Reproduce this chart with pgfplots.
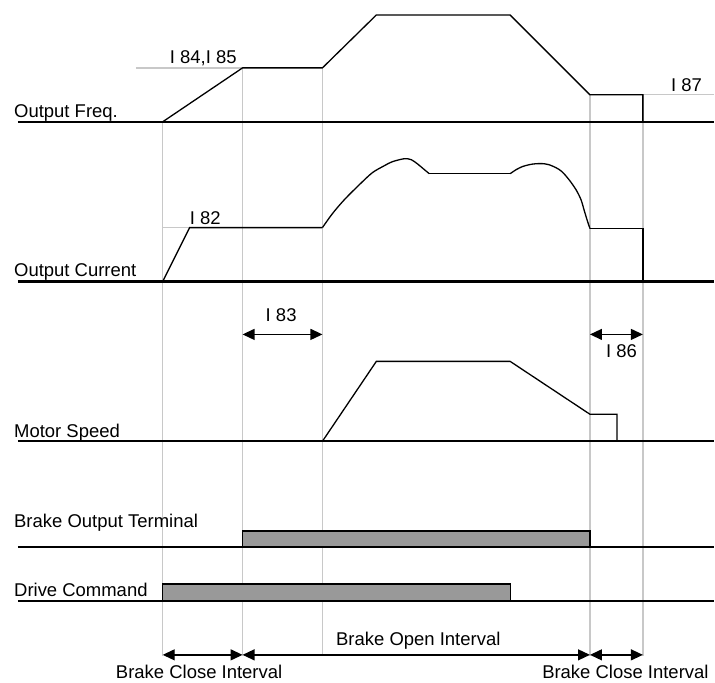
\documentclass[border=0pt]{standalone}
\usepackage{pgfplots}
\pgfplotsset{compat=1.18}
\usepackage{fontspec}
\setmainfont{Liberation Sans}
\usetikzlibrary{arrows.meta}
\definecolor{gl}{HTML}{C8C8C8}
\definecolor{barfill}{HTML}{999999}
\begin{document}
\begin{tikzpicture}
\begin{axis}[scale only axis, width=715pt, height=684pt,
  xmin=0, xmax=715, ymin=0, ymax=684, y dir=reverse,
  hide axis, clip=false,
  every axis plot/.append style={line join=miter},
  font=\fontsize{18.5}{22}\selectfont]
\path (axis cs:0,0) rectangle (axis cs:715,684);
% gray reference lines
\addplot[gl, line width=1.3pt] coordinates {(163,122)(163,657)};
\addplot[gl, line width=1.3pt] coordinates {(243,68)(243,657)};
\addplot[gl, line width=1.3pt] coordinates {(323,68)(323,657)};
\addplot[gl, line width=1.3pt] coordinates {(591,95)(591,657)};
\addplot[gl, line width=1.3pt] coordinates {(644,95)(644,657)};
\addplot[gl, line width=1.3pt] coordinates {(136,68)(243,68)};
\addplot[gl, line width=1.3pt] coordinates {(163,228)(190,228)};
\addplot[gl, line width=1.3pt] coordinates {(644,95)(715,95)};
% baselines
\addplot[black, line width=2.5pt] coordinates {(18,122)(715,122)};
\addplot[black, line width=2.5pt] coordinates {(18,282)(715,282)};
\addplot[black, line width=2.5pt] coordinates {(18,442)(715,442)};
\addplot[black, line width=2.5pt] coordinates {(18,548)(715,548)};
\addplot[black, line width=2.5pt] coordinates {(18,602)(715,602)};
% output frequency
\addplot[black, line width=1.3pt] coordinates {(163,122)(243,68)(323,68)(377,15)(511,15)(591,95)(644,95)(644,122)};
% output current
\addplot[black, line width=1.3pt] coordinates {(163,282)(190,228)(323,228)};
\addplot[black, line width=1.3pt, smooth, tension=0.5] coordinates {(323,228)(333,214)(345,200)(360,185)(373,173)(385,166)(393,162)(405,159)(412,160)(418,164)(424,169)(430,174)};
\addplot[black, line width=1.3pt] coordinates {(430,174)(511,174)};
\addplot[black, line width=1.3pt, smooth, tension=0.5] coordinates {(511,174)(517,170)(523,167)(530,165)(537,164)(545,164)(550,165)(557,168)(563,172)(570,180)(577,190)(582,200)(585,210)(588,220)(591,229)};
\addplot[black, line width=1.3pt] coordinates {(591,229)(644,229)(644,282)};
% motor speed
\addplot[black, line width=1.3pt] coordinates {(323,442)(377,362)(511,362)(591,415)(618,415)(618,442)};
% bars
\addplot[draw=black, line width=1.2pt, fill=barfill] coordinates {(243,548)(243,532)(591,532)(591,548)} -- cycle;
\addplot[draw=black, line width=1.2pt, fill=barfill] coordinates {(163,602)(163,585)(511,585)(511,602)} -- cycle;
% arrows
\addplot[black, line width=1.3pt, arrows={Triangle[length=12pt,width=11pt]-Triangle[length=12pt,width=11pt]}] coordinates {(243,335)(323,335)};
\addplot[black, line width=1.3pt, arrows={Triangle[length=12pt,width=11pt]-Triangle[length=12pt,width=11pt]}] coordinates {(591,335)(644,335)};
\addplot[black, line width=1.3pt, arrows={Triangle[length=12pt,width=11pt]-Triangle[length=12pt,width=11pt]}] coordinates {(163,656)(243,656)};
\addplot[black, line width=1.3pt, arrows={Triangle[length=12pt,width=11pt]-Triangle[length=12pt,width=11pt]}] coordinates {(243,656)(591,656)};
\addplot[black, line width=1.3pt, arrows={Triangle[length=12pt,width=11pt]-Triangle[length=12pt,width=11pt]}] coordinates {(591,656)(644,656)};
% labels
\node[anchor=base west, inner sep=0pt] at (axis cs:14,118) {Output Freq.};
\node[anchor=base west, inner sep=0pt] at (axis cs:14,277) {Output Current};
\node[anchor=base west, inner sep=0pt] at (axis cs:14,438) {Motor Speed};
\node[anchor=base west, inner sep=0pt] at (axis cs:14,528) {Brake Output Terminal};
\node[anchor=base west, inner sep=0pt] at (axis cs:14,598) {Drive Command};
\node[anchor=base west, inner sep=0pt] at (axis cs:170,64) {I 84,I 85};
\node[anchor=base west, inner sep=0pt] at (axis cs:190,225) {I 82};
\node[anchor=base west, inner sep=0pt] at (axis cs:672,92) {I 87};
\node[anchor=base west, inner sep=0pt] at (axis cs:266,322) {I 83};
\node[anchor=base west, inner sep=0pt] at (axis cs:607,358) {I 86};
\node[anchor=base, inner sep=0pt] at (axis cs:419,647) {Brake Open Interval};
\node[anchor=base west, inner sep=0pt] at (axis cs:116,680) {Brake Close Interval};
\node[anchor=base west, inner sep=0pt] at (axis cs:543,680) {Brake Close Interval};
\end{axis}
\end{tikzpicture}
\end{document}
